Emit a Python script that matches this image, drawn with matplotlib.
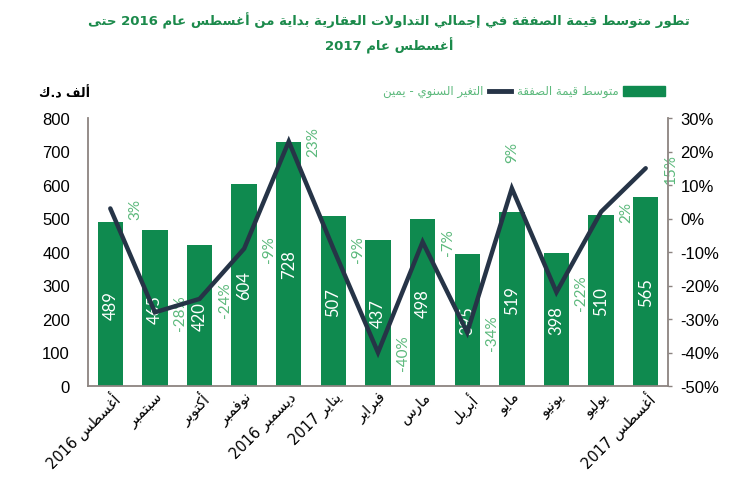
import matplotlib
matplotlib.use("Agg")
import matplotlib.pyplot as plt
from matplotlib.patches import Rectangle
from matplotlib.lines import Line2D

# ---------------- data ----------------
months = ["أغسطس 2016", "سبتمبر", "أكتوبر", "نوفمبر", "ديسمبر 2016", "يناير 2017",
          "فبراير", "مارس", "أبريل", "مايو", "يونيو", "يوليو", "أغسطس 2017"]
avg_value = [489, 465, 420, 604, 728, 507, 437, 498, 395, 519, 398, 510, 565]
yoy_change = [3, -28, -24, -9, 23, -9, -40, -7, -34, 9, -22, 2, 15]
left_ticks = [0, 100, 200, 300, 400, 500, 600, 700, 800]
right_ticks = [-50, -40, -30, -20, -10, 0, 10, 20, 30]
title_lines = ["تطور متوسط قيمة الصفقة في إجمالي التداولات العقارية بداية من أغسطس عام 2016 حتى",
               "أغسطس عام 2017"]
bar_series_name = "متوسط قيمة الصفقة"
line_series_name = "التغير السنوي - يمين"
unit_label = "ألف د.ك"
label_above = [False, False, False, False, False, False, False, False, False, True, False, False, False]

# ---------------- Arabic shaping (presentation forms + RTL order) ----------------
FORMS = {
    'ا': (0xFE8D, 0xFE8E, None, None), 'أ': (0xFE83, 0xFE84, None, None),
    'إ': (0xFE87, 0xFE88, None, None), 'آ': (0xFE81, 0xFE82, None, None),
    'ب': (0xFE8F, 0xFE90, 0xFE91, 0xFE92), 'ة': (0xFE93, 0xFE94, None, None),
    'ت': (0xFE95, 0xFE96, 0xFE97, 0xFE98), 'ث': (0xFE99, 0xFE9A, 0xFE9B, 0xFE9C),
    'ج': (0xFE9D, 0xFE9E, 0xFE9F, 0xFEA0), 'ح': (0xFEA1, 0xFEA2, 0xFEA3, 0xFEA4),
    'خ': (0xFEA5, 0xFEA6, 0xFEA7, 0xFEA8), 'د': (0xFEA9, 0xFEAA, None, None),
    'ذ': (0xFEAB, 0xFEAC, None, None), 'ر': (0xFEAD, 0xFEAE, None, None),
    'ز': (0xFEAF, 0xFEB0, None, None), 'س': (0xFEB1, 0xFEB2, 0xFEB3, 0xFEB4),
    'ش': (0xFEB5, 0xFEB6, 0xFEB7, 0xFEB8), 'ص': (0xFEB9, 0xFEBA, 0xFEBB, 0xFEBC),
    'ض': (0xFEBD, 0xFEBE, 0xFEBF, 0xFEC0), 'ط': (0xFEC1, 0xFEC2, 0xFEC3, 0xFEC4),
    'ظ': (0xFEC5, 0xFEC6, 0xFEC7, 0xFEC8), 'ع': (0xFEC9, 0xFECA, 0xFECB, 0xFECC),
    'غ': (0xFECD, 0xFECE, 0xFECF, 0xFED0), 'ف': (0xFED1, 0xFED2, 0xFED3, 0xFED4),
    'ق': (0xFED5, 0xFED6, 0xFED7, 0xFED8), 'ك': (0xFED9, 0xFEDA, 0xFEDB, 0xFEDC),
    'ل': (0xFEDD, 0xFEDE, 0xFEDF, 0xFEE0), 'م': (0xFEE1, 0xFEE2, 0xFEE3, 0xFEE4),
    'ن': (0xFEE5, 0xFEE6, 0xFEE7, 0xFEE8), 'ه': (0xFEE9, 0xFEEA, 0xFEEB, 0xFEEC),
    'و': (0xFEED, 0xFEEE, None, None), 'ى': (0xFEEF, 0xFEF0, None, None),
    'ي': (0xFEF1, 0xFEF2, 0xFEF3, 0xFEF4),
}
LAM_ALEF = {'ا': (0xFEFB, 0xFEFC), 'أ': (0xFEF7, 0xFEF8),
            'إ': (0xFEF9, 0xFEFA), 'آ': (0xFEF5, 0xFEF6)}


def dual(c):
    return c in FORMS and FORMS[c][2] is not None


def shape_word(w):
    out = []
    i = 0
    n = len(w)
    while i < n:
        c = w[i]
        if c not in FORMS:
            out.append(c)
            i += 1
            continue
        prev_join = i > 0 and dual(w[i - 1])
        if c == 'ل' and i + 1 < n and w[i + 1] in LAM_ALEF:
            iso, fin = LAM_ALEF[w[i + 1]]
            out.append(chr(fin if prev_join else iso))
            i += 2
            continue
        next_join = dual(c) and i + 1 < n and w[i + 1] in FORMS
        iso, fin, ini, med = FORMS[c]
        if prev_join and next_join:
            code = med
        elif prev_join:
            code = fin
        elif next_join:
            code = ini
        else:
            code = iso
        out.append(chr(code))
        i += 1
    return ''.join(out)


def ar(text):
    toks = text.split()
    vis = []
    for t in toks:
        if any(ch in FORMS for ch in t):
            vis.append(shape_word(t)[::-1])
        else:
            vis.append(t)
    return ' '.join(reversed(vis))


# ---------------- style ----------------
BAR_C = '#0f8a4f'
LINE_C = '#263447'
PCT_C = '#5cb97c'
TITLE_C = '#1b8a4b'
SPINE_C = '#8c8480'
AR_FONT = 'DejaVu Sans'
TITLE_FONT = ['DejaVu Sans Condensed', 'DejaVu Sans']
NUM_FONT = 'Liberation Sans'
LBL_FONT = 'Lato'
W, H = 751, 489

fig = plt.figure(figsize=(W / 100, H / 100), dpi=100)
ax = fig.add_axes([88 / W, 1 - 387 / H, 580 / W, 268 / H])
ax2 = ax.twinx()

x = list(range(len(months)))
ax.bar(x, avg_value, width=0.57, color=BAR_C, zorder=2)
ax.set_xlim(-0.5, len(months) - 0.5)
ax.set_ylim(0, 800)
ax.set_yticks(left_ticks)
ax.set_yticklabels([str(v) for v in left_ticks], fontsize=12, family=NUM_FONT)
ax.tick_params(axis='y', length=0, pad=13)

for xi, v in zip(x, avg_value):
    ax.text(xi, v / 2, str(v), rotation=90, ha='center', va='center',
            color='white', fontsize=12, family=LBL_FONT, zorder=3)

ax.set_xticks(x)
ax.set_xticklabels([ar(m) for m in months], rotation=45, ha='right', va='top',
                   rotation_mode='anchor', fontsize=10.5, family=AR_FONT)
ax.tick_params(axis='x', length=0, pad=2)

ax.spines['top'].set_visible(False)
ax2.spines['top'].set_visible(False)
ax.spines['right'].set_visible(False)
ax.spines['left'].set_color(SPINE_C)
ax.spines['bottom'].set_color(SPINE_C)
ax.spines['left'].set_linewidth(1.3)
ax.spines['bottom'].set_linewidth(1.3)
ax2.spines['left'].set_visible(False)
ax2.spines['bottom'].set_visible(False)
ax2.spines['right'].set_color(SPINE_C)
ax2.spines['right'].set_linewidth(1.3)

ax2.plot(x, yoy_change, color=LINE_C, linewidth=3.2, solid_capstyle='round',
         solid_joinstyle='miter', zorder=4)
ax2.set_ylim(-50, 30)
ax2.set_yticks(right_ticks)
ax2.set_yticklabels([f"{v}%" for v in right_ticks], fontsize=12, family=NUM_FONT)
ax2.tick_params(axis='y', length=3, width=1, color=SPINE_C, pad=6)

for xi, v, above in zip(x, yoy_change, label_above):
    if above:
        ax2.text(xi, v + 11, f"{v}%", rotation=90, ha='center', va='center',
                 color=PCT_C, fontsize=11, family=LBL_FONT, zorder=2)
    else:
        ax2.text(xi + 0.56, v, f"{v}%", rotation=90, ha='center', va='center',
                 color=PCT_C, fontsize=11, family=LBL_FONT, zorder=2)

renderer = fig.canvas.get_renderer()


def width_px(t):
    return t.get_window_extent(renderer=renderer).width


# title, fitted to the reference width (about 600 px)
t1 = fig.text(389 / W, 1 - 21 / H, ar(title_lines[0]), ha='center', va='center',
              fontsize=13, fontweight='bold', color=TITLE_C, family=TITLE_FONT)
fs = min(13.5, 13 * 602 / width_px(t1))
t1.set_fontsize(fs)
fig.text(389 / W, 1 - 46 / H, ar(title_lines[1]), ha='center', va='center',
         fontsize=fs, fontweight='bold', color=TITLE_C, family=TITLE_FONT)

# unit label
fig.text(90 / W, 1 - 93 / H, ar(unit_label), ha='right', va='center',
         fontsize=9, fontweight='bold', color='black', family=AR_FONT)

# legend laid out right-to-left
ly = 1 - 92 / H
box_r, box_w = 665, 42
fig.patches.append(Rectangle(((box_r - box_w) / W, 1 - 97 / H), box_w / W, 10 / H,
                             transform=fig.transFigure, color=BAR_C))
cur = box_r - box_w - 4
lt1 = fig.text(cur / W, ly, ar(bar_series_name), ha='right', va='center',
               fontsize=8.5, color=PCT_C, family=AR_FONT)
cur -= width_px(lt1) + 6
fig.lines.append(Line2D([(cur - 22) / W, cur / W], [ly, ly], transform=fig.transFigure,
                        color=LINE_C, linewidth=3.5))
cur -= 28
fig.text(cur / W, ly, ar(line_series_name), ha='right', va='center',
         fontsize=8.5, color=PCT_C, family=AR_FONT)

fig.savefig('out.png', dpi=100)
